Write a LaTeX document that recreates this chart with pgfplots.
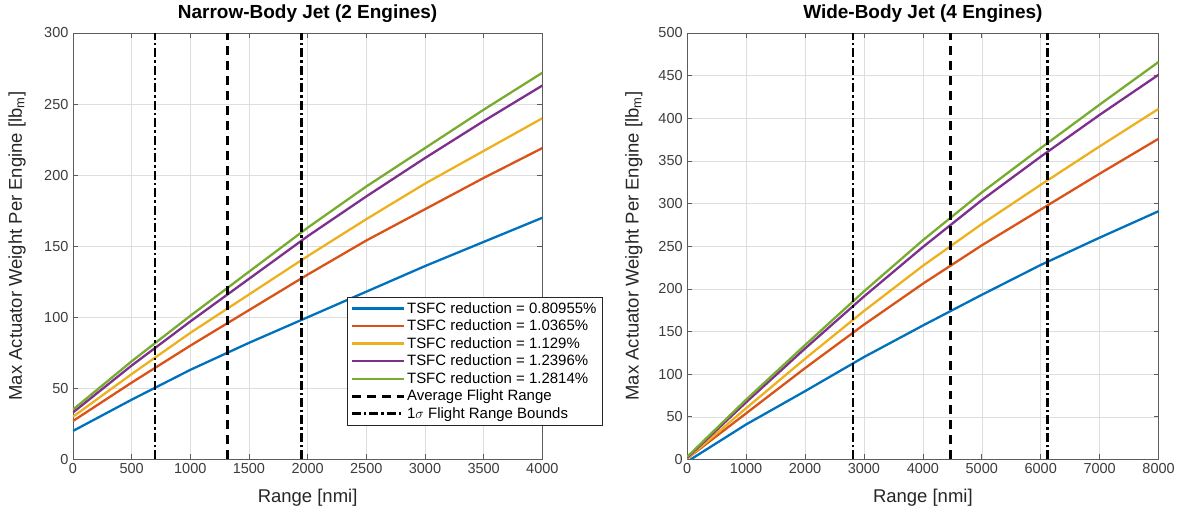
\documentclass[border=0pt]{standalone}
\usepackage{fontspec}
\setmainfont{Liberation Sans}
\usepackage{pgfplots}
\pgfplotsset{compat=1.18}
\definecolor{c1}{rgb}{0,0.447,0.741}
\definecolor{c2}{rgb}{0.850,0.325,0.098}
\definecolor{c3}{rgb}{0.929,0.694,0.125}
\definecolor{c4}{rgb}{0.494,0.184,0.556}
\definecolor{c5}{rgb}{0.466,0.674,0.188}
\definecolor{axc}{rgb}{0.15,0.15,0.15}
\pgfplotsset{
  mstyle/.style={
    scale only axis,
    height=427pt,
    axis line style={draw=axc!75, line width=0.8pt},
    every tick/.style={draw=axc!75, line width=0.6pt},
    tick align=inside,
    major tick length=5pt,
    grid=major,
    major grid style={draw=black!13, line width=0.5pt},
    ticklabel style={font=\fontsize{14.5}{16}\selectfont, text=axc!90},
    yticklabel style={xshift=-1pt},
    /pgf/number format/assume math mode=true,
    /pgf/number format/set thousands separator={},
    label style={font=\fontsize{18.5}{20}\selectfont, text=axc},
    title style={font=\bfseries\fontsize{19}{21}\selectfont, at={(0.5,1)}, anchor=south, yshift=1pt},
    clip=true,
  },
  cv/.style={line width=2.3pt, #1},
  dashedv/.style={black, line width=2.8pt, dash pattern=on 9pt off 6pt},
  dashdotv/.style={black, line width=2.8pt, dash pattern=on 9pt off 3pt on 2.5pt off 3pt},
}
\begin{document}
\begin{tikzpicture}[x=1pt,y=1pt]
\path (0,0) rectangle (1178,518);
\begin{axis}[mstyle,
  at={(73pt,58pt)}, anchor=south west,
  width=470pt,
  xmin=0, xmax=4000, ymin=0, ymax=300,
  xtick={0,500,...,4000}, ytick={0,50,...,300},
  title={Narrow-Body Jet (2 Engines)},
  xlabel={Range [nmi]},
  ylabel={Max Actuator Weight Per Engine [lb\textsubscript{m}]},
  xlabel style={at={(axis description cs:0.5,-0.089)}, anchor=center},
  ylabel style={at={(axis description cs:-0.119,0.5)}, anchor=center},
  legend image code/.code={\draw[#1] (0pt,0pt) -- (52pt,0pt);},
  legend style={at={(0.583,0.382)}, anchor=north west, draw=axc, line width=0.6pt, fill=white,
    font=\fontsize{15}{17}\selectfont, cells={anchor=west}, row sep=1.2pt, inner sep=3.5pt},
]
\addplot[cv=c1] coordinates {(0,20) (500,42) (1000,63) (1500,82) (2000,100) (2500,118) (3000,136) (3500,153) (4000,170)};
\addplot[cv=c2] coordinates {(0,27) (500,54) (1000,80) (1500,105) (2000,130) (2500,154) (3000,176) (3500,198) (4000,219)};
\addplot[cv=c3] coordinates {(0,30) (500,60) (1000,89) (1500,116) (2000,143) (2500,169) (3000,194) (3500,217) (4000,240)};
\addplot[cv=c4] coordinates {(0,33) (500,66) (1000,97) (1500,127) (2000,157) (2500,185) (3000,212) (3500,238) (4000,263)};
\addplot[cv=c5] coordinates {(0,35) (500,69) (1000,101) (1500,132) (2000,163) (2500,192) (3000,219) (3500,246) (4000,272)};
\addplot[dashedv] coordinates {(1320,0) (1320,300)};
\addplot[dashdotv] coordinates {(700,0) (700,300)};
\addplot[dashdotv, forget plot] coordinates {(1950,0) (1950,300)};
\legend{TSFC reduction = 0.80955\%, TSFC reduction = 1.0365\%, TSFC reduction = 1.129\%, TSFC reduction = 1.2396\%, TSFC reduction = 1.2814\%, Average Flight Range, {1$\sigma$ Flight Range Bounds}}
\end{axis}
\begin{axis}[mstyle,
  at={(688pt,58pt)}, anchor=south west,
  width=472pt,
  xmin=0, xmax=8000, ymin=0, ymax=500,
  xtick={0,1000,...,8000}, ytick={0,50,...,500},
  title={Wide-Body Jet (4 Engines)},
  xlabel={Range [nmi]},
  ylabel={Max Actuator Weight Per Engine [lb\textsubscript{m}]},
  xlabel style={at={(axis description cs:0.5,-0.089)}, anchor=center},
  ylabel style={at={(axis description cs:-0.113,0.5)}, anchor=center},
]
\addplot[cv=c1] coordinates {(60,0) (1000,41) (2000,80) (3000,120) (4000,157) (5000,193) (6000,228) (7000,260) (8000,291)};
\addplot[cv=c2] coordinates {(0,1) (1000,54) (2000,107) (3000,158) (4000,206) (5000,251) (6000,293) (7000,335) (8000,376)};
\addplot[cv=c3] coordinates {(0,1) (1000,60) (2000,118) (3000,174) (4000,227) (5000,276) (6000,322) (7000,367) (8000,411)};
\addplot[cv=c4] coordinates {(0,2) (1000,67) (2000,130) (3000,191) (4000,249) (5000,304) (6000,355) (7000,404) (8000,451)};
\addplot[cv=c5] coordinates {(0,3) (1000,70) (2000,134) (3000,197) (4000,257) (5000,313) (6000,365) (7000,416) (8000,466)};
\addplot[dashedv] coordinates {(4470,0) (4470,500)};
\addplot[dashdotv] coordinates {(2815,0) (2815,500)};
\addplot[dashdotv] coordinates {(6120,0) (6120,500)};
\end{axis}
\end{tikzpicture}
\end{document}
